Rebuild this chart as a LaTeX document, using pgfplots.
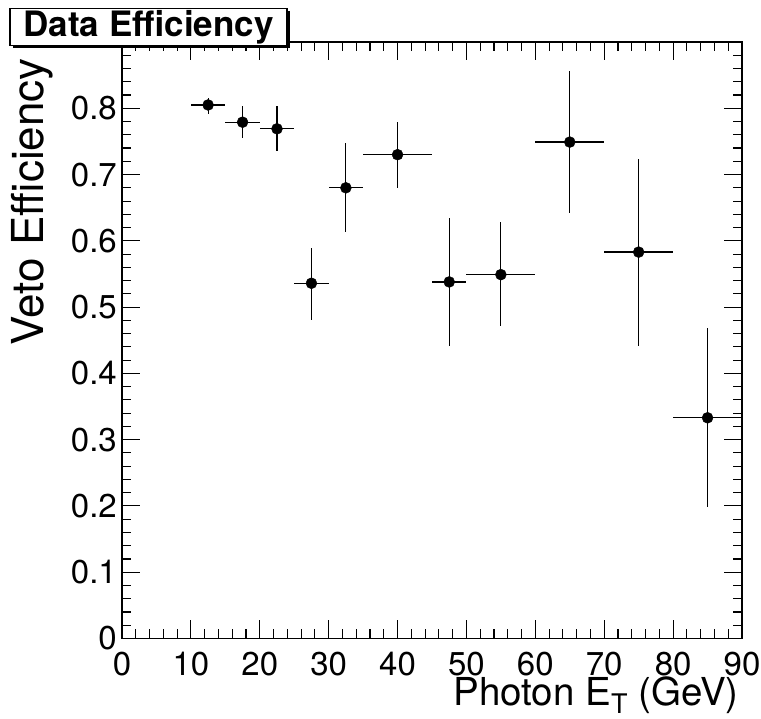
\documentclass[border=0pt]{standalone}
\usepackage{fontspec}
\setmainfont{TeX Gyre Heros}
\usepackage{pgfplots}
\pgfplotsset{compat=1.18}
\usepackage{pgfplotstable}
\usetikzlibrary{shadows}

\pgfplotstableread{
x y ex eyp eym
12.5 0.805 2.5 0.011 0.013
17.5 0.779 2.5 0.024 0.024
22.5 0.769 2.5 0.034 0.034
27.5 0.536 2.5 0.053 0.055
32.5 0.680 2.5 0.068 0.067
40 0.730 5 0.049 0.050
47.5 0.538 2.5 0.097 0.097
55 0.549 5 0.079 0.078
65 0.749 5 0.107 0.107
75 0.583 5 0.141 0.142
85 0.333 5 0.135 0.135
}\datatable

\begin{document}
\begin{tikzpicture}
\useasboundingbox (0,0) rectangle (761pt,719pt);
\begin{axis}[
  at={(122pt,80.5pt)}, anchor=south west,
  scale only axis, width=620pt, height=596.5pt,
  xmin=0, xmax=90, ymin=0, ymax=0.9,
  xtick={0,10,20,30,40,50,60,70,80,90},
  ytick={0,0.1,0.2,0.3,0.4,0.5,0.6,0.7,0.8,0.9},
  yticklabels={0,0.1,0.2,0.3,0.4,0.5,0.6,0.7,0.8,{}},
  minor x tick num=4, minor y tick num=4,
  major tick length=18pt, minor tick length=9pt,
  tick align=inside,
  axis line style={line width=1.8pt},
  every tick/.style={black, line width=1.1pt},
  /pgf/number format/assume math mode=true,
  ticklabel style={font=\fontsize{33}{38}\selectfont},
  xticklabel style={inner sep=0pt, yshift=-13.5pt},
  yticklabel style={inner sep=0pt, xshift=-5pt},
]
\addplot[only marks, mark=*, mark size=5.5pt, black,
  error bars/.cd, x dir=both, y dir=both, x explicit, y explicit,
  error mark=none, error bar style={line width=1.2pt, black}]
  table[x=x, y=y, x error=ex, y error plus=eyp, y error minus=eym] {\datatable};
\end{axis}
\node[draw=black, line width=1.2pt, fill=white,
  drop shadow={shadow xshift=3pt, shadow yshift=-3pt, opacity=1, fill=black},
  minimum width=277pt, minimum height=37pt, inner sep=0pt,
  font=\fontsize{35}{40}\selectfont\bfseries] at (148.5pt,692pt) {Data Efficiency};
\node[rotate=90, anchor=base east, inner sep=0pt,
  font=\fontsize{44}{50}\selectfont] at (43pt,661pt) {Veto Efficiency};
\node[anchor=base east, inner sep=0pt,
  font=\fontsize{38.5}{44}\selectfont] at (739pt,13pt)
  {Photon E\raisebox{-8pt}{\fontsize{27}{30}\selectfont T} (GeV)};
\end{tikzpicture}
\end{document}
